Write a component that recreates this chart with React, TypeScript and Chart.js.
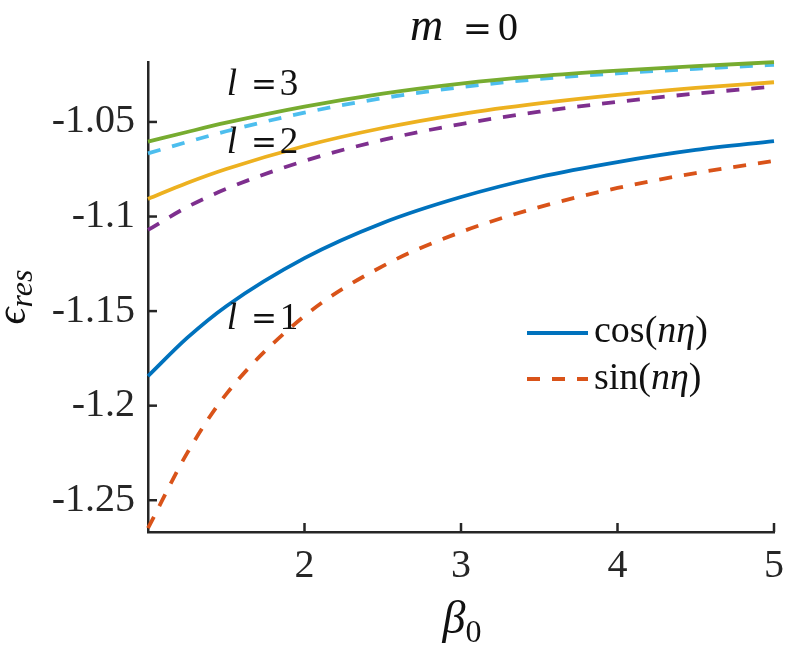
import React, { useEffect, useRef } from 'react';
import { Chart, registerables } from 'chart.js';
Chart.register(...registerables);

// beta_0 sample positions
const beta0 = [1, 1.25, 1.5, 2, 2.5, 3, 3.5, 4, 4.5, 5];
// l = 1
const cosL1 = [-1.1844, -1.1642, -1.1474, -1.122, -1.1034, -1.0897, -1.0791, -1.0712, -1.0648, -1.0601];
const sinL1 = [-1.2648, -1.2251, -1.1939, -1.1526, -1.1262, -1.1082, -1.095, -1.0849, -1.077, -1.0706];
// l = 2
const cosL2 = [-1.0907, -1.0823, -1.0749, -1.0627, -1.0532, -1.0458, -1.0402, -1.0357, -1.032, -1.029];
const sinL2 = [-1.1071, -1.095, -1.0854, -1.0706, -1.0595, -1.0511, -1.0446, -1.0394, -1.035, -1.0313];
// l = 3
const cosL3 = [-1.0604, -1.0553, -1.0504, -1.0419, -1.035, -1.0297, -1.0258, -1.0229, -1.0205, -1.0184];
const sinL3 = [-1.0666, -1.0606, -1.0549, -1.0451, -1.0374, -1.0316, -1.0273, -1.0243, -1.0219, -1.0198];

const xTicks = [2, 3, 4, 5];
const yTicks = [-1.25, -1.2, -1.15, -1.1, -1.05];
const xRange = [1, 5];
const yRange = [-1.2668, -1.0183];

const legendLabels = ['cos', 'sin'];
const curveLabels = ['3', '2', '1'];

const C_BLUE = '#0072BD';
const C_ORANGE = '#D95319';
const C_YELLOW = '#EDB120';
const C_PURPLE = '#7E2F8E';
const C_GREEN = '#77AC30';
const C_CYAN = '#4DBEEE';
const AXIS = '#262626';
const DASH = [13, 12];

const SERIF = '"Liberation Serif", serif';

function runs(ctx: CanvasRenderingContext2D, parts: [string, string, number][], x: number, y: number, align: 'left' | 'center' = 'left') {
  let total = 0;
  for (const [t, f] of parts) { ctx.font = f; total += ctx.measureText(t).width; }
  let cx = align === 'center' ? x - total / 2 : x;
  ctx.textAlign = 'left';
  ctx.textBaseline = 'alphabetic';
  for (const [t, f, dy] of parts) {
    ctx.font = f;
    ctx.fillText(t, cx, y + dy);
    cx += ctx.measureText(t).width;
  }
}

function put(ctx: CanvasRenderingContext2D, t: string, x: number, y: number, font: string) {
  ctx.font = font;
  ctx.textAlign = 'center';
  ctx.textBaseline = 'alphabetic';
  ctx.fillText(t, x, y);
}

const decorPlugin = {
  id: 'decor',
  afterDraw(chart: any) {
    const ctx: CanvasRenderingContext2D = chart.ctx;
    const { left, top, bottom } = chart.chartArea;
    const xs = chart.scales.x;
    const ys = chart.scales.y;
    ctx.save();
    // inward ticks
    ctx.strokeStyle = AXIS;
    ctx.lineWidth = 2.5;
    xs.ticks.forEach((t: any) => {
      const px = xs.getPixelForValue(t.value);
      ctx.beginPath(); ctx.moveTo(px, bottom); ctx.lineTo(px, bottom - 9); ctx.stroke();
    });
    ys.ticks.forEach((t: any) => {
      const py = ys.getPixelForValue(t.value);
      ctx.beginPath(); ctx.moveTo(left, py); ctx.lineTo(left + 9, py); ctx.stroke();
    });

    ctx.fillStyle = '#111';
    // title m =0
    put(ctx, 'm', 426.5, 40, `italic 46px ${SERIF}`);
    put(ctx, '=', 477.5, 40, '35px "DejaVu Serif", serif');
    put(ctx, '0', 508, 40, `40px ${SERIF}`);

    // curve labels
    const ann: [string, number][] = [[curveLabels[0], 95], [curveLabels[1], 153], [curveLabels[2], 329]];
    ann.forEach(([d, by]) => {
      put(ctx, 'l', 232, by, `italic 37px ${SERIF}`);
      put(ctx, '=', 264, by, '31px "DejaVu Serif", serif');
      put(ctx, d, 289, by, `37px ${SERIF}`);
    });

    // y label
    ctx.save();
    ctx.translate(25, (top + bottom) / 2);
    ctx.rotate(-Math.PI / 2);
    runs(ctx, [['ϵ', `italic 42px ${SERIF}`, 0], ['res', `italic 32px ${SERIF}`, 7]], 0, 0, 'center');
    ctx.restore();

    // x label
    runs(ctx, [['β', `italic 46px ${SERIF}`, 0], ['0', `32px ${SERIF}`, 9]], 462, 633, 'center');

    // legend
    ctx.lineWidth = 3.8;
    ctx.strokeStyle = C_BLUE;
    ctx.setLineDash([]);
    ctx.beginPath(); ctx.moveTo(527, 333); ctx.lineTo(588, 333); ctx.stroke();
    ctx.strokeStyle = C_ORANGE;
    ctx.setLineDash(DASH);
    ctx.beginPath(); ctx.moveTo(527, 379); ctx.lineTo(588, 379); ctx.stroke();
    ctx.setLineDash([]);
    ctx.fillStyle = '#111';
    runs(ctx, [[legendLabels[0] + '(', `38px ${SERIF}`, 0], ['nη', `italic 38px ${SERIF}`, 0], [')', `38px ${SERIF}`, 0]], 594, 342);
    runs(ctx, [[legendLabels[1] + '(', `38px ${SERIF}`, 0], ['nη', `italic 38px ${SERIF}`, 0], [')', `38px ${SERIF}`, 0]], 594, 389);
    ctx.restore();
  },
};

function mk(label: string, data: number[], color: string, dashed: boolean) {
  return {
    label,
    data: beta0.map((x, i) => ({ x, y: data[i] })),
    borderColor: color,
    backgroundColor: color,
    borderWidth: 3.8,
    borderDash: dashed ? DASH : [],
    pointRadius: 0,
    cubicInterpolationMode: 'monotone' as const,
    fill: false,
    clip: false as any,
  };
}

export default function App() {
  const ref = useRef<HTMLCanvasElement | null>(null);
  useEffect(() => {
    document.body.style.margin = '0';
    const chart = new Chart(ref.current!, {
      type: 'line',
      data: {
        datasets: [
          mk('cos l=3', cosL3, C_GREEN, false),
          mk('sin l=3', sinL3, C_CYAN, true),
          mk('cos l=2', cosL2, C_YELLOW, false),
          mk('sin l=2', sinL2, C_PURPLE, true),
          mk('cos l=1', cosL1, C_BLUE, false),
          mk('sin l=1', sinL1, C_ORANGE, true),
        ],
      },
      options: {
        responsive: false,
        animation: false,
        events: [],
        layout: { padding: { top: 62, right: 15, left: 0, bottom: 0 } },
        plugins: { legend: { display: false }, tooltip: { enabled: false }, title: { display: false } },
        scales: {
          x: {
            type: 'linear',
            min: xRange[0],
            max: xRange[1],
            afterBuildTicks: (s: any) => { s.ticks = xTicks.map((v) => ({ value: v })); },
            afterFit: (s: any) => { s.height = 118; },
            ticks: {
              autoSkip: false,
              maxRotation: 0,
              padding: 10,
              color: AXIS,
              font: { family: SERIF, size: 40 },
              callback: (v: any) => String(v),
            },
            grid: { display: true, drawOnChartArea: false, drawTicks: false },
            border: { display: true, color: AXIS, width: 2.5 },
          },
          y: {
            type: 'linear',
            min: yRange[0],
            max: yRange[1],
            afterBuildTicks: (s: any) => { s.ticks = yTicks.map((v) => ({ value: v })); },
            afterFit: (s: any) => { s.width = 148; },
            ticks: {
              autoSkip: false,
              padding: 13,
              color: AXIS,
              font: { family: SERIF, size: 40 },
              callback: (v: any) => String(Number(Number(v).toFixed(2))),
            },
            grid: { display: true, drawOnChartArea: false, drawTicks: false },
            border: { display: true, color: AXIS, width: 2.5 },
          },
        },
      },
      plugins: [decorPlugin],
    });
    return () => chart.destroy();
  }, []);
  return (
    <div style={{ position: 'absolute', left: 0, top: 0, width: 794, height: 650, background: '#fff' }}>
      <canvas ref={ref} width={794} height={650} style={{ display: 'block' }} />
    </div>
  );
}
